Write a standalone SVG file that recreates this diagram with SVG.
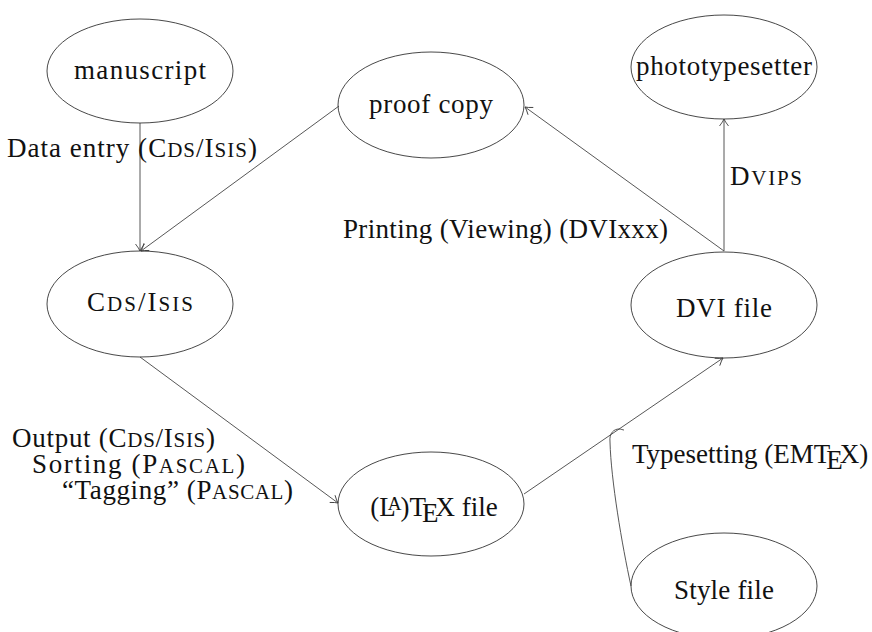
<svg xmlns="http://www.w3.org/2000/svg" width="872" height="632" viewBox="0 0 872 632">
<style>
  .node ellipse { fill: none; stroke: #333; stroke-width: 0.9; }
  text { font-family: "Liberation Serif", "Times New Roman", serif; font-size: 27px; fill: #111; }
  .nl { text-anchor: middle; }
  .sc { font-size: 21px; }
  .edge { fill: none; stroke: #444; stroke-width: 0.9; }
</style>
<defs>
  <marker id="arr" markerUnits="userSpaceOnUse" markerWidth="14" markerHeight="14" viewBox="-10 -7 14 14" refX="0" refY="0" orient="auto">
    <path d="M-7,-4.5 Q-2.5,-1 0,0 Q-2.5,1 -7,4.5" fill="none" stroke="#444" stroke-width="0.9"/>
  </marker>
</defs>
<rect width="872" height="632" fill="#fff"/>

<g id="connectors">
  <line class="edge" x1="140" y1="123" x2="140" y2="251" marker-end="url(#arr)"/>
  <line class="edge" x1="339" y1="106" x2="141" y2="251" marker-end="url(#arr)"/>
  <line class="edge" x1="140" y1="357" x2="338" y2="503" marker-end="url(#arr)"/>
  <line class="edge" x1="524" y1="494" x2="723" y2="358" marker-end="url(#arr)"/>
  <line class="edge" x1="724" y1="251" x2="525" y2="107" marker-end="url(#arr)"/>
  <line class="edge" x1="724" y1="251" x2="724" y2="119" marker-end="url(#arr)"/>
  <path class="edge" d="M631,586 C622,545 611,480 610,442 C609,433 614,429 619,429 C621,429 623,430 624,430"/>
</g>

<g id="labels">
  <text x="7" y="157" textLength="250" lengthAdjust="spacing">Data entry (C<tspan class="sc">DS</tspan>/I<tspan class="sc">SIS</tspan>)</text>
  <text x="343" y="238" textLength="325" lengthAdjust="spacing">Printing (Viewing) (DVIxxx)</text>
  <text x="730" y="185" textLength="72" lengthAdjust="spacing">D<tspan class="sc">VIPS</tspan></text>
  <text x="12" y="447" textLength="203" lengthAdjust="spacing">Output (C<tspan class="sc">DS</tspan>/I<tspan class="sc">SIS</tspan>)</text>
  <text x="32" y="473" textLength="213" lengthAdjust="spacing">Sorting (P<tspan class="sc">ASCAL</tspan>)</text>
  <text x="62" y="499" textLength="231" lengthAdjust="spacing">“Tagging” (P<tspan class="sc">ASCAL</tspan>)</text>
  <text x="632" y="463">Typesetting (EMT<tspan dx="-4" dy="6">E</tspan><tspan dx="-3" dy="-6">X)</tspan></text>
</g>

<g id="node-manuscript" class="node">
  <ellipse cx="140" cy="71" rx="93" ry="52"/>
  <text class="nl" x="140" y="79" textLength="132" lengthAdjust="spacing">manuscript</text>
</g>
<g id="node-proofcopy" class="node">
  <ellipse cx="431" cy="105" rx="93" ry="53"/>
  <text class="nl" x="431" y="113" textLength="124" lengthAdjust="spacing">proof copy</text>
</g>
<g id="node-phototypesetter" class="node">
  <ellipse cx="724" cy="67" rx="93" ry="52"/>
  <text class="nl" x="724" y="75" textLength="176" lengthAdjust="spacing">phototypesetter</text>
</g>
<g id="node-cdsisis" class="node">
  <ellipse cx="140" cy="304" rx="93" ry="53"/>
  <text class="nl" x="140" y="311" textLength="106" lengthAdjust="spacing">C<tspan class="sc">DS</tspan>/I<tspan class="sc">SIS</tspan></text>
</g>
<g id="node-dvifile" class="node">
  <ellipse cx="724" cy="305" rx="93" ry="53"/>
  <text class="nl" x="724" y="317" textLength="96" lengthAdjust="spacing">DVI file</text>
</g>
<g id="node-latexfile" class="node">
  <ellipse cx="431" cy="504" rx="93" ry="52"/>
  <text class="nl" x="434" y="516">(L<tspan dx="-8" dy="-6" font-size="19">A</tspan><tspan dx="-1" dy="6">)T</tspan><tspan dx="-4" dy="6">E</tspan><tspan dx="-3" dy="-6">X file</tspan></text>
</g>
<g id="node-stylefile" class="node">
  <ellipse cx="724" cy="586" rx="93" ry="53"/>
  <text class="nl" x="724" y="599" textLength="100" lengthAdjust="spacing">Style file</text>
</g>
</svg>
